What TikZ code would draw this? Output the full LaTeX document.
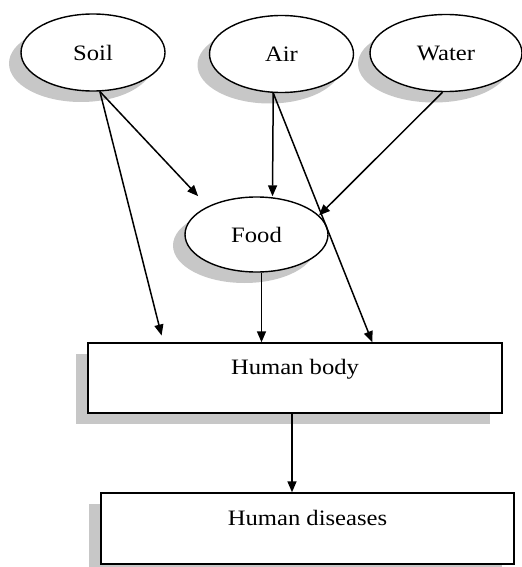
\documentclass[tikz,border=0pt]{standalone}
\usepackage{fontspec}
\setmainfont{Liberation Serif}[FakeStretch=1.12]
\usetikzlibrary{shapes,arrows.meta,shadows,positioning}
\tikzset{
  source/.style = {
    ellipse,
    draw=black,
    line width=0.7pt,
    fill=white,
    inner sep=0pt,
    minimum width=72pt,
    minimum height=38.5pt,
    font=\fontsize{11}{13}\selectfont,
    drop shadow={shadow xshift=-6pt, shadow yshift=-5.5pt, fill=black!22, opacity=1}
  },
  stage/.style = {
    rectangle,
    draw=black,
    line width=0.7pt,
    fill=white,
    inner sep=0pt,
    minimum width=207pt,
    minimum height=35pt,
    text depth=11pt,
    font=\fontsize{11}{13}\selectfont,
    drop shadow={shadow xshift=-6pt, shadow yshift=-5.5pt, fill=black!22, opacity=1}
  },
  flow_arrow/.style = {
    line width=0.75pt,
    -{Triangle[length=5.5pt,width=4.5pt]}
  }
}

\begin{document}
\begin{tikzpicture}[x=0.5pt, y=-0.5pt]
\useasboundingbox (0,0) rectangle (522,567);

% Umwelt - Quellen
\node[source] (soil) at (93,52.5) {Soil};
\node[source] (air) at (281.5,54) {Air};
\node[source, minimum width=76pt] (water) at (446,53) {Water};

% Nahrung
\node[source, minimum width=71.5pt, minimum height=37.5pt] (food) at (256.5,234.5) {Food};

% Koerper und Krankheiten
\node[stage] (body) at (295,378) {Human body};
\node[stage, minimum width=206.5pt, minimum height=35.5pt] (diseases) at (307.5,528.5) {Human diseases};

% Verbindungen
\draw[flow_arrow, shorten >=3.5pt] (soil.-80) -- ([xshift=38pt]body.north west);
\draw[flow_arrow, shorten >=7pt] (soil.-80) -- (food.150);
\draw[flow_arrow] (air.-102) -- ([xshift=8pt]food.north);
\draw[flow_arrow] (air.-102) -- ([xshift=142.5pt]body.north west);
\draw[flow_arrow] (water.-95) -- (food.17);
\draw[flow_arrow] ([xshift=2.5pt]food.south) -- ([xshift=2.5pt]food.south |- body.north);
\draw[flow_arrow] ([xshift=-1.5pt]body.south) -- ([xshift=-1.5pt]body.south |- diseases.north);

\end{tikzpicture}
\end{document}
